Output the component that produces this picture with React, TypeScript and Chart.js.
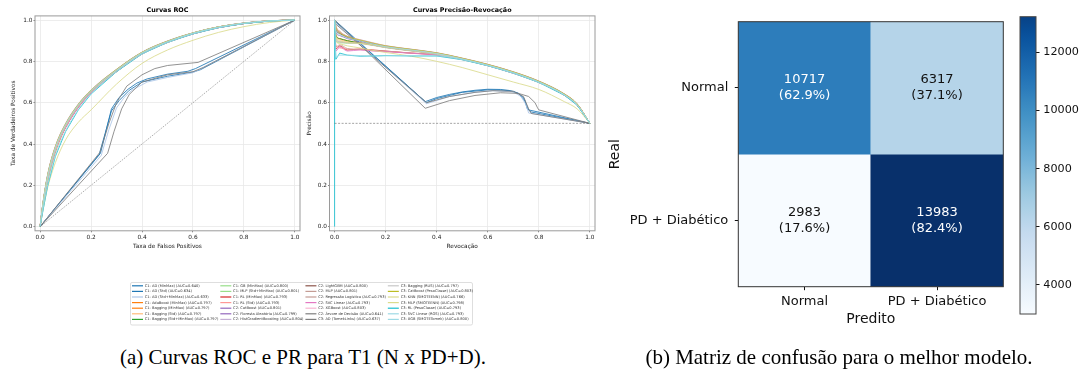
import React, { useEffect, useRef } from 'react';
import { Chart, registerables } from 'chart.js';

Chart.register(...registerables);
Chart.defaults.font.family = "'DejaVu Sans', sans-serif";

// ---------------- Series (legend) ----------------
const SERIES_NAMES = [
  'C1: AD (MinMax) (AUC=0.640)',
  'C1: AD (Std) (AUC=0.634)',
  'C1: AD (Std+MinMax) (AUC=0.633)',
  'C1: AdaBoost (MinMax) (AUC=0.797)',
  'C1: Bagging (MinMax) (AUC=0.797)',
  'C1: Bagging (Std) (AUC=0.797)',
  'C1: Bagging (Std+MinMax) (AUC=0.797)',
  'C1: GB (MinMax) (AUC=0.800)',
  'C1: MLP (Std+MinMax) (AUC=0.801)',
  'C1: RL (MinMax) (AUC=0.793)',
  'C1: RL (Std) (AUC=0.793)',
  'C2: CatBoost (AUC=0.801)',
  'C2: Floresta Aleatória (AUC=0.799)',
  'C2: HistGradientBoosting (AUC=0.804)',
  'C2: LightGBM (AUC=0.800)',
  'C2: MLP (AUC=0.801)',
  'C2: Regressão Logística (AUC=0.793)',
  'C2: SVC Linear (AUC=0.793)',
  'C2: XGBoost (AUC=0.803)',
  'C2: Árvore de Decisão (AUC=0.641)',
  'C3: AD (TomekLinks) (AUC=0.637)',
  'C3: Bagging (RUS) (AUC=0.797)',
  'C3: CatBoost (PesoClasse) (AUC=0.803)',
  'C3: KNN (SMOTEENN) (AUC=0.766)',
  'C3: MLP (SMOTEENN) (AUC=0.798)',
  'C3: RL (PesoClasse) (AUC=0.793)',
  'C3: SVC Linear (ROS) (AUC=0.793)',
  'C3: XGB (SMOTETomek) (AUC=0.800)',
];

const SERIES_COLORS = [
  '#1f77b4', '#1f77b4', '#aec7e8', '#ff7f0e', '#ff7f0e', '#ffbb78', '#2ca02c',
  '#98df8a', '#98df8a', '#d62728', '#ff9896', '#9467bd', '#9467bd', '#c5b0d5',
  '#8c564b', '#c49c94', '#c49c94', '#e377c2', '#f7b6d2', '#7f7f7f', '#7f7f7f',
  '#c7c7c7', '#bcbd22', '#dbdb8d', '#dbdb8d', '#17becf', '#9edae5', '#9edae5',
];

// series drawn with straight segments (step-like trees / jagged starts)
const STRAIGHT_SERIES = [0, 1, 2, 19, 20, 25];

// ---------------- ROC data ----------------
const ROC_FPR_GRID = [0, 0.01, 0.03, 0.06, 0.1, 0.15, 0.2, 0.3, 0.4, 0.5, 0.6, 0.7, 0.8, 0.9, 1.0];

const ROC_FPR: number[][] = [
  [0, 0.237, 0.26, 0.28, 0.31, 0.345, 0.38, 0.42, 0.5, 0.58, 0.61, 1.0],
  [0, 0.232, 0.255, 0.28, 0.31, 0.35, 0.4, 0.5, 0.6, 0.63, 1.0],
  [0, 0.24, 0.27, 0.3, 0.33, 0.36, 0.42, 0.5, 0.6, 1.0],
  ROC_FPR_GRID, ROC_FPR_GRID, ROC_FPR_GRID, ROC_FPR_GRID,
  ROC_FPR_GRID, ROC_FPR_GRID, ROC_FPR_GRID, ROC_FPR_GRID,
  ROC_FPR_GRID, ROC_FPR_GRID, ROC_FPR_GRID, ROC_FPR_GRID,
  ROC_FPR_GRID, ROC_FPR_GRID, ROC_FPR_GRID, ROC_FPR_GRID,
  [0, 0.235, 0.27, 0.3, 0.34, 0.4, 0.45, 0.5, 0.62, 1.0],
  [0, 0.265, 0.29, 0.32, 0.35, 0.4, 0.5, 0.6, 0.64, 1.0],
  ROC_FPR_GRID, ROC_FPR_GRID, ROC_FPR_GRID, ROC_FPR_GRID,
  ROC_FPR_GRID, ROC_FPR_GRID, ROC_FPR_GRID,
];

const ROC_TPR: number[][] = [
  [0, 0.355, 0.47, 0.57, 0.625, 0.665, 0.695, 0.715, 0.738, 0.752, 0.765, 1.0],
  [0, 0.35, 0.45, 0.56, 0.61, 0.66, 0.7, 0.728, 0.748, 0.76, 1.0],
  [0, 0.345, 0.47, 0.575, 0.625, 0.66, 0.7, 0.722, 0.745, 1.0],
  [0, 0.08, 0.22, 0.36, 0.48, 0.58, 0.65, 0.755, 0.84, 0.895, 0.935, 0.965, 0.984, 0.995, 1],
  [0, 0.09, 0.23, 0.37, 0.485, 0.583, 0.652, 0.753, 0.838, 0.893, 0.934, 0.964, 0.983, 0.995, 1],
  [0, 0.085, 0.225, 0.365, 0.483, 0.582, 0.651, 0.752, 0.838, 0.894, 0.934, 0.965, 0.984, 0.995, 1],
  [0, 0.088, 0.228, 0.368, 0.484, 0.581, 0.65, 0.754, 0.839, 0.893, 0.935, 0.964, 0.983, 0.995, 1],
  [0, 0.1, 0.245, 0.38, 0.492, 0.588, 0.657, 0.758, 0.842, 0.897, 0.937, 0.966, 0.985, 0.996, 1],
  [0, 0.1, 0.25, 0.385, 0.495, 0.59, 0.658, 0.759, 0.843, 0.897, 0.937, 0.967, 0.985, 0.996, 1],
  [0, 0.09, 0.235, 0.37, 0.48, 0.578, 0.648, 0.75, 0.836, 0.892, 0.933, 0.963, 0.983, 0.995, 1],
  [0, 0.092, 0.236, 0.371, 0.481, 0.579, 0.649, 0.751, 0.836, 0.891, 0.933, 0.963, 0.983, 0.995, 1],
  [0, 0.1, 0.25, 0.384, 0.495, 0.59, 0.659, 0.76, 0.843, 0.897, 0.937, 0.967, 0.985, 0.996, 1],
  [0, 0.095, 0.24, 0.378, 0.49, 0.586, 0.655, 0.756, 0.84, 0.895, 0.936, 0.966, 0.984, 0.995, 1],
  [0, 0.105, 0.255, 0.39, 0.5, 0.594, 0.662, 0.762, 0.845, 0.899, 0.938, 0.967, 0.986, 0.996, 1],
  [0, 0.1, 0.246, 0.381, 0.493, 0.589, 0.657, 0.758, 0.842, 0.896, 0.937, 0.966, 0.985, 0.996, 1],
  [0, 0.1, 0.248, 0.384, 0.495, 0.59, 0.659, 0.759, 0.843, 0.897, 0.937, 0.967, 0.985, 0.996, 1],
  [0, 0.091, 0.234, 0.369, 0.48, 0.578, 0.648, 0.75, 0.835, 0.891, 0.933, 0.963, 0.983, 0.995, 1],
  [0, 0.089, 0.232, 0.368, 0.479, 0.577, 0.648, 0.751, 0.836, 0.892, 0.933, 0.963, 0.983, 0.995, 1],
  [0, 0.104, 0.252, 0.388, 0.498, 0.592, 0.661, 0.761, 0.844, 0.898, 0.938, 0.967, 0.985, 0.996, 1],
  [0, 0.36, 0.5, 0.6, 0.68, 0.735, 0.765, 0.78, 0.795, 1.0],
  [0, 0.355, 0.46, 0.57, 0.64, 0.7, 0.735, 0.75, 0.77, 1.0],
  [0, 0.087, 0.226, 0.366, 0.484, 0.582, 0.651, 0.753, 0.838, 0.893, 0.934, 0.964, 0.984, 0.995, 1],
  [0, 0.103, 0.252, 0.387, 0.497, 0.592, 0.66, 0.761, 0.844, 0.898, 0.938, 0.967, 0.985, 0.996, 1],
  [0, 0.07, 0.19, 0.31, 0.42, 0.505, 0.565, 0.69, 0.79, 0.855, 0.902, 0.94, 0.968, 0.988, 1],
  [0, 0.097, 0.243, 0.379, 0.49, 0.586, 0.655, 0.757, 0.841, 0.895, 0.936, 0.966, 0.984, 0.995, 1],
  [0, 0.07, 0.2, 0.34, 0.46, 0.565, 0.642, 0.75, 0.836, 0.892, 0.933, 0.963, 0.983, 0.995, 1],
  [0, 0.075, 0.205, 0.345, 0.463, 0.567, 0.644, 0.75, 0.835, 0.891, 0.933, 0.963, 0.983, 0.995, 1],
  [0, 0.1, 0.247, 0.382, 0.494, 0.589, 0.658, 0.758, 0.842, 0.896, 0.937, 0.966, 0.985, 0.996, 1],
];

const ROC_CHANCE_X = [0, 1];
const ROC_CHANCE_Y = [0, 1];

// ---------------- Precision-Recall data ----------------
const PR_REC_GRID = [0, 0.005, 0.02, 0.05, 0.1, 0.15, 0.2, 0.3, 0.4, 0.5, 0.6, 0.7, 0.8, 0.9, 0.95, 1.0];

const PR_REC: number[][] = [
  [0, 0.355, 0.4, 0.45, 0.5, 0.55, 0.6, 0.65, 0.7, 0.72, 0.74, 0.75, 0.76, 1.0],
  [0, 0.36, 0.4, 0.5, 0.6, 0.68, 0.72, 0.745, 0.755, 0.77, 1.0],
  [0, 0.36, 0.45, 0.55, 0.62, 0.7, 0.73, 0.75, 0.76, 1.0],
  PR_REC_GRID, PR_REC_GRID, PR_REC_GRID, PR_REC_GRID,
  PR_REC_GRID, PR_REC_GRID, PR_REC_GRID, PR_REC_GRID,
  PR_REC_GRID, PR_REC_GRID, PR_REC_GRID, PR_REC_GRID,
  PR_REC_GRID, PR_REC_GRID, PR_REC_GRID, PR_REC_GRID,
  [0, 0.355, 0.45, 0.55, 0.65, 0.72, 0.76, 0.785, 0.795, 0.8, 1.0],
  [0, 0.36, 0.45, 0.55, 0.62, 0.7, 0.74, 0.76, 0.77, 1.0],
  PR_REC_GRID, PR_REC_GRID, PR_REC_GRID, PR_REC_GRID,
  [0, 0, 0.005, 0.02, 0.05, 0.1, 0.15, 0.2, 0.3, 0.4, 0.5, 0.6, 0.7, 0.8, 0.9, 0.95, 1.0],
  PR_REC_GRID, PR_REC_GRID,
];

const PR_PREC: number[][] = [
  [1.0, 0.605, 0.625, 0.64, 0.652, 0.66, 0.665, 0.664, 0.655, 0.645, 0.625, 0.595, 0.565, 0.5],
  [0.995, 0.6, 0.62, 0.65, 0.662, 0.66, 0.645, 0.61, 0.57, 0.555, 0.5],
  [0.99, 0.595, 0.63, 0.65, 0.658, 0.652, 0.63, 0.59, 0.55, 0.5],
  [1.0, 0.97, 0.945, 0.92, 0.9, 0.884, 0.87, 0.853, 0.836, 0.81, 0.78, 0.744, 0.699, 0.637, 0.589, 0.5],
  [1.0, 0.93, 0.91, 0.9, 0.89, 0.879, 0.868, 0.852, 0.836, 0.81, 0.781, 0.744, 0.699, 0.637, 0.589, 0.5],
  [1.0, 0.92, 0.905, 0.895, 0.888, 0.878, 0.867, 0.851, 0.835, 0.81, 0.78, 0.744, 0.699, 0.637, 0.589, 0.5],
  [1.0, 0.925, 0.91, 0.9, 0.889, 0.879, 0.868, 0.852, 0.836, 0.81, 0.781, 0.745, 0.7, 0.638, 0.59, 0.5],
  [1.0, 0.95, 0.935, 0.915, 0.9, 0.885, 0.872, 0.856, 0.839, 0.813, 0.783, 0.747, 0.702, 0.64, 0.592, 0.5],
  [1.0, 0.9, 0.89, 0.888, 0.888, 0.882, 0.872, 0.856, 0.84, 0.814, 0.784, 0.748, 0.703, 0.641, 0.593, 0.5],
  [1.0, 0.86, 0.875, 0.855, 0.86, 0.855, 0.85, 0.84, 0.832, 0.81, 0.78, 0.743, 0.698, 0.636, 0.588, 0.5],
  [1.0, 0.88, 0.865, 0.86, 0.858, 0.852, 0.848, 0.84, 0.831, 0.809, 0.78, 0.743, 0.698, 0.636, 0.588, 0.5],
  [1.0, 0.96, 0.94, 0.918, 0.902, 0.887, 0.874, 0.857, 0.84, 0.814, 0.784, 0.748, 0.703, 0.641, 0.593, 0.5],
  [1.0, 0.94, 0.925, 0.91, 0.897, 0.883, 0.87, 0.854, 0.838, 0.812, 0.782, 0.746, 0.701, 0.639, 0.591, 0.5],
  [1.0, 0.97, 0.945, 0.922, 0.905, 0.89, 0.876, 0.859, 0.842, 0.816, 0.786, 0.75, 0.705, 0.643, 0.595, 0.5],
  [1.0, 0.955, 0.935, 0.916, 0.9, 0.885, 0.872, 0.856, 0.839, 0.813, 0.783, 0.747, 0.702, 0.64, 0.592, 0.5],
  [1.0, 0.91, 0.895, 0.89, 0.889, 0.883, 0.873, 0.857, 0.84, 0.814, 0.784, 0.748, 0.703, 0.641, 0.593, 0.5],
  [1.0, 0.87, 0.88, 0.862, 0.857, 0.853, 0.849, 0.84, 0.832, 0.81, 0.78, 0.744, 0.699, 0.637, 0.589, 0.5],
  [1.0, 0.85, 0.87, 0.85, 0.855, 0.85, 0.847, 0.839, 0.83, 0.809, 0.779, 0.742, 0.698, 0.636, 0.588, 0.5],
  [1.0, 0.965, 0.942, 0.92, 0.904, 0.889, 0.875, 0.858, 0.841, 0.815, 0.785, 0.749, 0.704, 0.642, 0.594, 0.5],
  [1.0, 0.573, 0.61, 0.635, 0.648, 0.645, 0.63, 0.6, 0.575, 0.565, 0.5],
  [0.985, 0.6, 0.63, 0.65, 0.658, 0.655, 0.63, 0.57, 0.548, 0.5],
  [1.0, 0.9, 0.895, 0.89, 0.886, 0.877, 0.866, 0.85, 0.834, 0.808, 0.779, 0.743, 0.698, 0.636, 0.588, 0.5],
  [1.0, 0.965, 0.94, 0.92, 0.903, 0.888, 0.875, 0.858, 0.841, 0.815, 0.785, 0.749, 0.704, 0.642, 0.594, 0.5],
  [1.0, 0.9, 0.885, 0.875, 0.865, 0.853, 0.843, 0.825, 0.8, 0.77, 0.735, 0.7, 0.664, 0.605, 0.57, 0.5],
  [1.0, 0.92, 0.9, 0.892, 0.887, 0.88, 0.869, 0.853, 0.837, 0.811, 0.781, 0.745, 0.7, 0.638, 0.59, 0.5],
  [0, 1.0, 0.81, 0.84, 0.83, 0.825, 0.826, 0.828, 0.826, 0.826, 0.808, 0.779, 0.743, 0.698, 0.636, 0.588, 0.5],
  [1.0, 0.82, 0.83, 0.83, 0.828, 0.826, 0.827, 0.828, 0.827, 0.808, 0.779, 0.742, 0.697, 0.636, 0.588, 0.5],
  [1.0, 0.95, 0.93, 0.913, 0.899, 0.884, 0.871, 0.855, 0.838, 0.812, 0.782, 0.746, 0.701, 0.639, 0.591, 0.5],
];

const PR_BASELINE_X = [0, 1];
const PR_BASELINE_Y = [0.5, 0.5];

const UNIT_TICKS = [0, 0.2, 0.4, 0.6, 0.8, 1.0];

// ---------------- Confusion matrix ----------------
const CM_TRUE_LABELS = ['Normal', 'PD + Diabético'];
const CM_PRED_LABELS = ['Normal', 'PD + Diabético'];
const CM_COUNTS = [
  [10717, 6317],
  [2983, 13983],
];
const CM_PERCENTS = [
  [62.9, 37.1],
  [17.6, 82.4],
];
const CBAR_TICKS = [4000, 6000, 8000, 10000, 12000];
const CBAR_RANGE = [3000, 13230];

// ---------------- helpers ----------------
const BLUES = ['#f7fbff', '#deebf7', '#c6dbef', '#9ecae1', '#6baed6', '#4292c6', '#2171b5', '#08519c', '#08306b'];

function hexToRgb(h: string) {
  const n = parseInt(h.slice(1), 16);
  return [(n >> 16) & 255, (n >> 8) & 255, n & 255];
}
function blues(t: number) {
  const c = Math.max(0, Math.min(1, t)) * (BLUES.length - 1);
  const i = Math.min(BLUES.length - 2, Math.floor(c));
  const f = c - i;
  const a = hexToRgb(BLUES[i]);
  const b = hexToRgb(BLUES[i + 1]);
  const m = a.map((v, k) => Math.round(v + (b[k] - v) * f));
  return `rgb(${m[0]},${m[1]},${m[2]})`;
}
function withAlpha(h: string, a: number) {
  const [r, g, b] = hexToRgb(h);
  return `rgba(${r},${g},${b},${a})`;
}

const framePlugin = (color: string, width: number) => ({
  id: 'frame',
  afterDraw(chart: any) {
    const { left, top, right, bottom } = chart.chartArea;
    const ctx = chart.ctx;
    ctx.save();
    ctx.strokeStyle = color;
    ctx.lineWidth = width;
    ctx.strokeRect(left, top, right - left, bottom - top);
    ctx.restore();
  },
});

function useChart(ref: any, make: () => any) {
  useEffect(() => {
    const chart = new Chart(ref.current, make());
    return () => chart.destroy();
  }, []);
}

const TXT = '#222';
const AXIS_FONT = { family: "'DejaVu Sans'", size: 5.8 };
const TITLE_FONT = { family: "'DejaVu Sans'", size: 6.4, weight: 'bold' as const };

function buildCurveConfig(p: any) {
  const datasets: any[] = SERIES_NAMES.map((name, i) => ({
    label: name,
    data: p.xs[i].map((x: number, k: number) => ({ x, y: p.ys[i][k] })),
    borderColor: withAlpha(SERIES_COLORS[i], 0.85),
    backgroundColor: SERIES_COLORS[i],
    borderWidth: 1,
    pointRadius: 0,
    fill: false,
    tension: 0,
    cubicInterpolationMode: STRAIGHT_SERIES.includes(i) ? 'default' : 'monotone',
    order: SERIES_NAMES.length - i + 1,
  }));
  datasets.push({
    label: 'ref',
    data: p.refX.map((x: number, k: number) => ({ x, y: p.refY[k] })),
    borderColor: 'rgba(80,80,80,0.75)',
    borderWidth: 0.7,
    borderDash: p.refDash,
    pointRadius: 0,
    fill: false,
    order: 0,
  });
  const tickOpts = {
    font: AXIS_FONT,
    color: TXT,
    autoSkip: false,
    maxRotation: 0,
    callback: (v: any) => Number(v).toFixed(1),
  };
  return {
    type: 'line',
    data: { datasets },
    options: {
      animation: false,
      responsive: false,
      events: [],
      layout: { padding: { top: 0, left: 0, right: p.padRight, bottom: 0 } },
      plugins: { legend: { display: false }, tooltip: { enabled: false } },
      scales: {
        x: {
          type: 'linear',
          position: 'bottom',
          min: -0.02,
          max: 1.02,
          afterBuildTicks: (a: any) => { a.ticks = UNIT_TICKS.map((v) => ({ value: v })); },
          ticks: { ...tickOpts, padding: 1.5 },
          grid: { color: '#e9e9e9', lineWidth: 0.8, tickLength: 1.5, tickColor: '#666' },
          border: { display: false },
          title: { display: true, text: p.xTitle, font: AXIS_FONT, color: TXT, padding: { top: 0, bottom: 12.5 } },
          afterFit: (s: any) => { s.height = 31.2; },
        },
        y: {
          type: 'linear',
          position: 'left',
          min: -0.02,
          max: 1.02,
          afterBuildTicks: (a: any) => { a.ticks = UNIT_TICKS.map((v) => ({ value: v })); },
          ticks: { ...tickOpts, padding: 1 },
          grid: { color: '#e9e9e9', lineWidth: 0.8, tickLength: 1.5, tickColor: '#666' },
          border: { display: false },
          title: { display: true, text: p.yTitle, font: AXIS_FONT, color: TXT, padding: { top: p.yTitlePad, bottom: 0 } },
          afterFit: (s: any) => { s.width = p.yAxisWidth; },
        },
        xTop: {
          axis: 'x',
          type: 'linear',
          position: 'top',
          min: 0,
          max: 1,
          ticks: { display: false },
          grid: { display: false, drawTicks: false },
          border: { display: false },
          title: { display: true, text: p.title, font: TITLE_FONT, color: '#000', padding: { top: 6.2, bottom: 0 } },
          afterFit: (s: any) => { s.height = 15.9; },
        },
      },
    },
    plugins: [framePlugin('#9a9a9a', 1)],
  };
}

function RocChart() {
  const ref = useRef<HTMLCanvasElement>(null);
  useChart(ref, () =>
    buildCurveConfig({
      title: 'Curvas ROC',
      xTitle: 'Taxa de Falsos Positivos',
      yTitle: 'Taxa de Verdadeiros Positivos',
      xs: ROC_FPR,
      ys: ROC_TPR,
      refX: ROC_CHANCE_X,
      refY: ROC_CHANCE_Y,
      refDash: [1.2, 1.2],
      yAxisWidth: 35,
      padRight: 5,
      yTitlePad: 10.5,
    })
  );
  return <canvas ref={ref} width={305} height={262} style={{ position: 'absolute', left: 0, top: 0, width: 305, height: 262 }} />;
}

function PrChart() {
  const ref = useRef<HTMLCanvasElement>(null);
  useChart(ref, () =>
    buildCurveConfig({
      title: 'Curvas Precisão-Revocação',
      xTitle: 'Revocação',
      yTitle: 'Precisão',
      xs: PR_REC,
      ys: PR_PREC,
      refX: PR_BASELINE_X,
      refY: PR_BASELINE_Y,
      refDash: [2, 1.5],
      yAxisWidth: 29.5,
      padRight: 5,
      yTitlePad: 6.5,
    })
  );
  return <canvas ref={ref} width={300} height={262} style={{ position: 'absolute', left: 300, top: 0, width: 300, height: 262 }} />;
}

const legendFramePlugin = {
  id: 'legendFrame',
  beforeDraw(chart: any) {
    const l = chart.legend;
    if (!l) return;
    const ctx = chart.ctx;
    ctx.save();
    ctx.fillStyle = '#fff';
    ctx.strokeStyle = '#d6d6d6';
    ctx.lineWidth = 0.8;
    const w = l.width - 8;
    ctx.beginPath();
    ctx.roundRect(l.left + 0.5, 0.5, w, 42.5, 1.5);
    ctx.fill();
    ctx.stroke();
    ctx.restore();
  },
};

function LegendPanel() {
  const ref = useRef<HTMLCanvasElement>(null);
  useChart(ref, () => ({
    type: 'line',
    data: {
      labels: [],
      datasets: SERIES_NAMES.map((name, i) => ({
        label: name,
        data: [],
        borderColor: SERIES_COLORS[i],
        backgroundColor: SERIES_COLORS[i],
        borderWidth: 1.2,
      })),
    },
    options: {
      animation: false,
      responsive: false,
      events: [],
      layout: { padding: 0 },
      scales: { x: { display: false }, y: { display: false } },
      plugins: {
        tooltip: { enabled: false },
        legend: {
          position: 'left',
          align: 'start',
          labels: {
            usePointStyle: true,
            pointStyle: 'line',
            pointStyleWidth: 11,
            boxHeight: 3.6,
            padding: 2,
            color: '#333',
            font: { family: "'DejaVu Sans'", size: 3.6 },
          },
        },
      },
    },
    plugins: [legendFramePlugin],
  }));
  return <canvas ref={ref} width={700} height={44} style={{ position: 'absolute', left: 130, top: 282, width: 700, height: 44 }} />;
}

function MatrixChart() {
  const ref = useRef<HTMLCanvasElement>(null);
  useChart(ref, () => {
    const flat = CM_COUNTS.flat();
    const vmin = Math.min(...flat);
    const vmax = Math.max(...flat);
    const thresh = (vmin + vmax) / 2;
    const datasets = CM_TRUE_LABELS.map((lab, r) => ({
      label: lab,
      data: CM_PRED_LABELS.map(() => [r, r + 1]),
      backgroundColor: CM_COUNTS[r].map((v) => blues((v - vmin) / (vmax - vmin))),
      borderWidth: 0,
      barPercentage: 1,
      categoryPercentage: 1,
    }));
    const textPlugin = {
      id: 'cellText',
      afterDatasetsDraw(chart: any) {
        const ctx = chart.ctx;
        ctx.save();
        ctx.font = "13px 'DejaVu Sans'";
        ctx.textAlign = 'center';
        ctx.textBaseline = 'middle';
        chart.data.datasets.forEach((_: any, r: number) => {
          chart.getDatasetMeta(r).data.forEach((bar: any, c: number) => {
            const { x, y, base } = bar.getProps(['x', 'y', 'base'], true);
            const cy = (y + base) / 2;
            const v = CM_COUNTS[r][c];
            ctx.fillStyle = v > thresh ? '#fff' : '#111';
            ctx.fillText(String(v), x, cy - 7.9);
            ctx.fillText(`(${CM_PERCENTS[r][c].toFixed(1)}%)`, x, cy + 7.7);
          });
        });
        ctx.restore();
      },
    };
    const tickFont = { family: "'DejaVu Sans'", size: 13 };
    const titleFont = { family: "'DejaVu Sans'", size: 14 };
    return {
      type: 'bar',
      data: { labels: CM_PRED_LABELS, datasets },
      options: {
        animation: false,
        responsive: false,
        events: [],
        layout: { padding: { top: 21.7, right: 6.7, left: 0, bottom: 0 } },
        plugins: { legend: { display: false }, tooltip: { enabled: false } },
        scales: {
          x: {
            stacked: true,
            ticks: { font: tickFont, color: '#111', padding: 3.7, maxRotation: 0 },
            grid: { offset: false, drawOnChartArea: false, tickLength: 3.5, tickColor: '#111' },
            border: { display: false },
            title: { display: true, text: 'Predito', font: titleFont, color: '#111', padding: { top: 0, bottom: 2.6 } },
            afterFit: (s: any) => { s.height = 43.3; },
          },
          y: {
            type: 'linear',
            min: 0,
            max: 2,
            reverse: true,
            afterBuildTicks: (a: any) => { a.ticks = CM_TRUE_LABELS.map((_, i) => ({ value: i + 0.5 })); },
            ticks: { font: tickFont, color: '#111', padding: 6.5, callback: (v: any) => CM_TRUE_LABELS[Math.floor(Number(v))] },
            grid: { drawOnChartArea: false, tickLength: 3.5, tickColor: '#111' },
            border: { display: false },
            title: { display: true, text: 'Real', font: titleFont, color: '#111', padding: { top: 6.6, bottom: 0 } },
            afterFit: (s: any) => { s.width = 138.3; },
          },
        },
      },
      plugins: [textPlugin, framePlugin('#333', 1)],
    };
  });
  return <canvas ref={ref} width={410} height={330} style={{ position: 'absolute', left: 600, top: 0, width: 410, height: 330 }} />;
}

function ColorbarChart() {
  const ref = useRef<HTMLCanvasElement>(null);
  useChart(ref, () => {
    const flat = CM_COUNTS.flat();
    const vmin = Math.min(...flat);
    const vmax = Math.max(...flat);
    const gradientFill = (c: any) => {
      const chart = c.chart;
      const ys = chart.scales && chart.scales.y;
      if (!chart.chartArea || !ys) return blues(0.5);
      const y0 = ys.getPixelForValue(CBAR_RANGE[0]);
      const y1 = ys.getPixelForValue(CBAR_RANGE[1]);
      const g = chart.ctx.createLinearGradient(0, y0, 0, y1);
      for (let k = 0; k <= 40; k++) {
        const f = k / 40;
        const v = CBAR_RANGE[0] + f * (CBAR_RANGE[1] - CBAR_RANGE[0]);
        g.addColorStop(f, blues((v - vmin) / (vmax - vmin)));
      }
      return g;
    };
    return {
      type: 'bar',
      data: {
        labels: [''],
        datasets: [{ data: [[CBAR_RANGE[0], CBAR_RANGE[1]]], backgroundColor: gradientFill, borderWidth: 0, barPercentage: 1, categoryPercentage: 1 }],
      },
      options: {
        animation: false,
        responsive: false,
        events: [],
        layout: { padding: { left: 10, top: 16.7, bottom: 16, right: 0 } },
        plugins: { legend: { display: false }, tooltip: { enabled: false } },
        scales: {
          x: { display: false },
          y: {
            position: 'right',
            min: CBAR_RANGE[0],
            max: CBAR_RANGE[1],
            afterBuildTicks: (a: any) => { a.ticks = CBAR_TICKS.map((v) => ({ value: v })); },
            ticks: { font: { family: "'DejaVu Sans'", size: 11.2 }, color: '#111', padding: 3.8, callback: (v: any) => String(v) },
            grid: { drawOnChartArea: false, tickLength: 3.5, tickColor: '#111' },
            border: { display: false },
            afterFit: (s: any) => { s.width = 45; },
          },
        },
      },
      plugins: [framePlugin('#444', 1)],
    };
  });
  return <canvas ref={ref} width={71} height={330} style={{ position: 'absolute', left: 1010, top: 0, width: 71, height: 330 }} />;
}

const captionStyle: React.CSSProperties = {
  position: 'absolute',
  top: 345,
  height: 24,
  lineHeight: '24px',
  fontFamily: "'Liberation Serif', 'Times New Roman', serif",
  fontSize: 21,
  color: '#000',
  textAlign: 'center',
  whiteSpace: 'nowrap',
};

export default function App() {
  return (
    <div style={{ position: 'absolute', left: 0, top: 0, width: 1081, height: 371, background: '#fff', overflow: 'hidden' }}>
      <RocChart />
      <PrChart />
      <LegendPanel />
      <MatrixChart />
      <ColorbarChart />
      <div style={{ ...captionStyle, left: 103, width: 400 }}>(a) Curvas ROC e PR para T1 (N x PD+D).</div>
      <div style={{ ...captionStyle, left: 639, width: 400 }}>(b) Matriz de confusão para o melhor modelo.</div>
    </div>
  );
}
